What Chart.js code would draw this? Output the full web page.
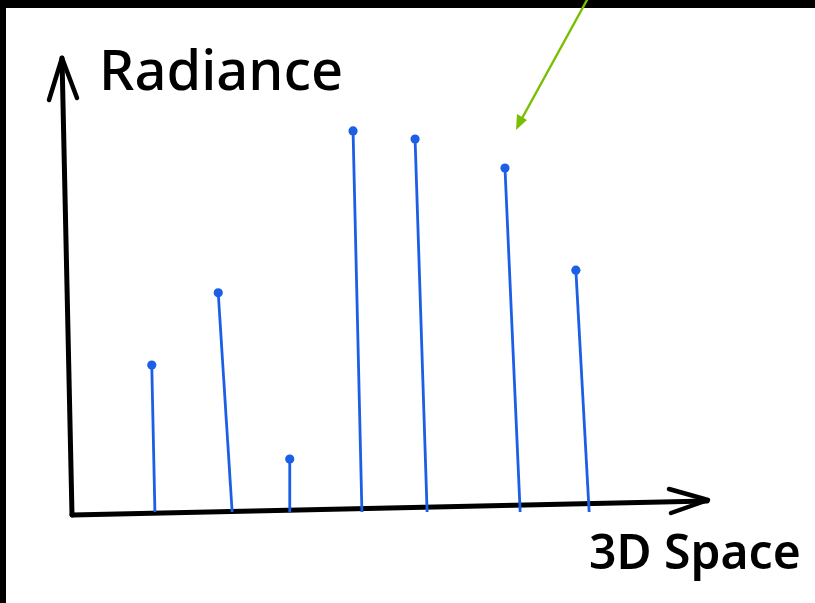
<!DOCTYPE html>
<html>
<head>
<meta charset="utf-8">
<title>Radiance along a ray</title>
<script src="https://cdn.jsdelivr.net/npm/chart.js@4"></script>
<style>
  html, body { margin: 0; padding: 0; background: #fff; }
  #wrap { width: 815px; height: 603px; position: relative; }
</style>
</head>
<body>
<div id="wrap"><canvas id="sketch" width="815" height="603"></canvas></div>
<script>
// samples along the ray: where each stem starts on the axis, where its top lands, and its height
const sampleBaseX = [13.1, 25.3, 34.4, 45.8, 56.1, 70.8, 81.7];
const sampleTopX = [12.6, 23.1, 34.4, 44.4, 54.2, 68.4, 79.6];
const radiance = [32.5, 48.5, 11.7, 84.3, 82.5, 76.1, 53.5];

const yAxisTitle = "Radiance";
const xAxisTitle = "3D Space";

const blue = "#1c5fe6";
const ink = "#000";
const green = "#78bf00";

const stems = radiance.map(function (v, i) {
    return {
        type: "line",
        data: [{ x: sampleBaseX[i], y: 0 }, { x: sampleTopX[i], y: v }],
        borderColor: blue,
        borderWidth: 2.8,
        pointRadius: [0, 4.6],
        pointBackgroundColor: blue,
        pointBorderWidth: 0,
        tension: 0
    };
});

function line(ctx, pts, w, color) {
    ctx.beginPath();
    ctx.moveTo(pts[0][0], pts[0][1]);
    for (let i = 1; i < pts.length; i++) ctx.lineTo(pts[i][0], pts[i][1]);
    ctx.lineWidth = w;
    ctx.strokeStyle = color;
    ctx.lineCap = "round";
    ctx.lineJoin = "round";
    ctx.stroke();
}

// hand drawn axes, labels and the frame bits
const sketchPlugin = {
    id: "sketch",
    beforeDraw: function (chart) {
        const ctx = chart.ctx;
        ctx.save();
        ctx.fillStyle = "#fff";
        ctx.fillRect(0, 0, chart.width, chart.height);
        ctx.fillStyle = "#000";
        ctx.fillRect(0, 0, chart.width, 8);
        ctx.fillRect(0, 0, 6, chart.height);
        ctx.restore();
    },
    beforeDatasetsDraw: function (chart) {
        const ctx = chart.ctx;
        const xs = chart.scales.x, ys = chart.scales.y;
        const x0 = xs.getPixelForValue(0), y0 = ys.getPixelForValue(0);
        const xEnd = xs.getPixelForValue(100), yTop = ys.getPixelForValue(100);
        ctx.save();
        // y axis with arrow
        line(ctx, [[x0, y0 + 3], [x0 - 10, yTop - 2]], 5, ink);
        line(ctx, [[x0 - 23, yTop + 40], [x0 - 10, yTop - 2], [x0 + 5, yTop + 38]], 4.5, ink);
        // x axis with arrow
        line(ctx, [[x0, y0 + 3], [xEnd + 2, y0 - 11]], 5, ink);
        line(ctx, [[xEnd - 36, y0 - 23], [xEnd + 3, y0 - 12], [xEnd - 34, y0 + 1]], 4.5, ink);

        ctx.fillStyle = ink;
        ctx.textBaseline = "alphabetic";
        ctx.textAlign = "left";
        ctx.font = "500 56px 'Noto Sans'";
        ctx.fillText(yAxisTitle, x0 + 27, yTop + 30);
        ctx.font = "600 48px 'Noto Sans'";
        ctx.fillText(xAxisTitle, xEnd - 116, y0 + 57);

        // green pointer arrow
        line(ctx, [[587, 0], [520, 122]], 2.4, green);
        ctx.beginPath();
        ctx.moveTo(516, 130);
        ctx.lineTo(517, 114);
        ctx.lineTo(527, 120);
        ctx.closePath();
        ctx.fillStyle = green;
        ctx.fill();
        ctx.restore();
    }
};

new Chart(document.getElementById("sketch"), {
    type: "scatter",
    data: { datasets: stems },
    options: {
        responsive: false,
        animation: false,
        layout: { padding: { left: 72, right: 110, top: 60, bottom: 91 } },
        plugins: { legend: { display: false }, tooltip: { enabled: false } },
        scales: {
            x: { type: "linear", min: 0, max: 100, display: false },
            y: { type: "linear", min: 0, max: 100, display: false }
        }
    },
    plugins: [sketchPlugin]
});
</script>
</body>
</html>
